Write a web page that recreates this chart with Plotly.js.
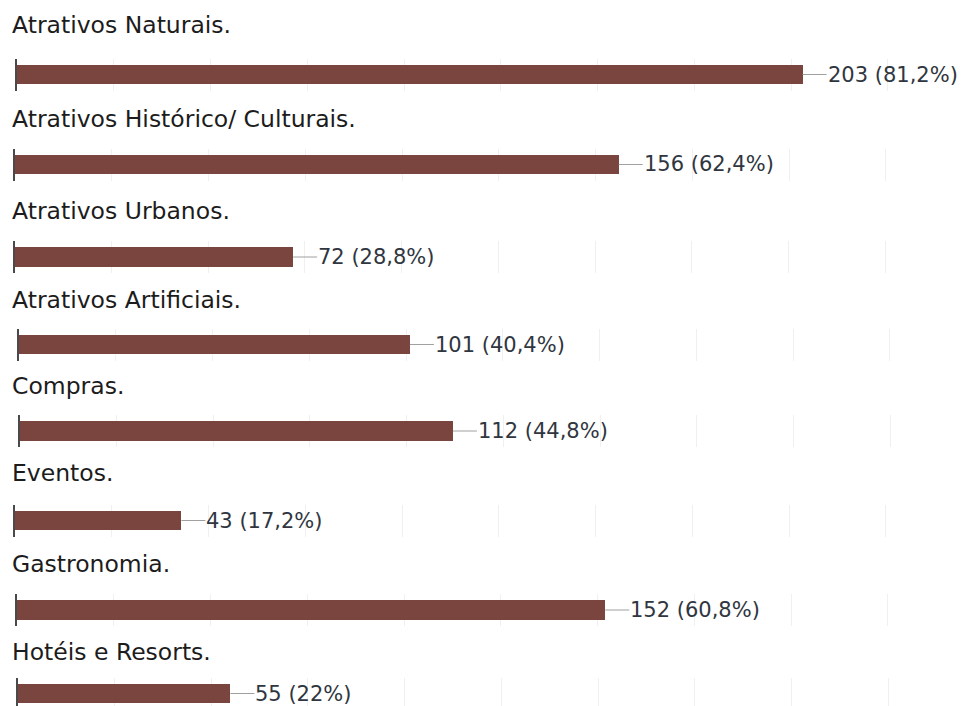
<!DOCTYPE html>
<html>
<head>
<meta charset="utf-8">
<script src="https://cdn.plot.ly/plotly-3.0.1.min.js"></script>
<style>
  html, body { margin: 0; padding: 0; background: #fff; }
  #chart { width: 965px; height: 706px; }
</style>
</head>
<body>
<div id="chart"></div>
<script>
// ---- data ----
const categories = [
  "Atrativos Naturais.",
  "Atrativos Histórico/ Culturais.",
  "Atrativos Urbanos.",
  "Atrativos Artificiais.",
  "Compras.",
  "Eventos.",
  "Gastronomia.",
  "Hotéis e Resorts."
];
const counts = [203, 156, 72, 101, 112, 43, 152, 55];
const percents = ["81,2", "62,4", "28,8", "40,4", "44,8", "17,2", "60,8", "22"];

// ---- layout constants (pixels) ----
const W = 965, H = 706;
const pxPerUnit = 3.87;
const panelLeft = [17, 15, 14.5, 19, 19.5, 15, 17, 17.5];
const barCenter = [74.5, 164.5, 257, 344.5, 431, 520.5, 610, 693.5];
const titleCenter = [25, 119, 211, 300, 386, 472.5, 564, 652];
const halfSpan = 16;   // half height of each panel's plot area
const barColor = "#7a443f";

const traces = [];
const layout = {
  width: W, height: H,
  margin: {l: 0, r: 0, t: 0, b: 0, pad: 0},
  paper_bgcolor: "#ffffff",
  plot_bgcolor: "#ffffff",
  showlegend: false,
  bargap: 0,
  annotations: []
};

categories.forEach((cat, i) => {
  const n = i + 1;
  const xa = n === 1 ? "x" : "x" + n;
  const ya = n === 1 ? "y" : "y" + n;
  const xKey = n === 1 ? "xaxis" : "xaxis" + n;
  const yKey = n === 1 ? "yaxis" : "yaxis" + n;

  traces.push({
    type: "bar",
    orientation: "h",
    x: [counts[i]],
    y: [cat],
    width: [0.6],
    marker: {color: barColor, line: {width: 0}},
    xaxis: xa, yaxis: ya,
    hoverinfo: "skip"
  });

  const left = panelLeft[i];
  layout[xKey] = {
    domain: [left / W, 1],
    range: [0, (W - left) / pxPerUnit],
    anchor: ya,
    showgrid: true, gridcolor: "#f0f0f0", gridwidth: 1,
    tick0: 0, dtick: 25,
    zeroline: false, showline: false,
    showticklabels: false, ticks: "",
    fixedrange: true
  };

  let topPx = barCenter[i] - halfSpan;
  let botPx = barCenter[i] + halfSpan;
  let yBottom = -0.5;
  if (botPx > H) {
    yBottom = 0.5 - (H - topPx) / (2 * halfSpan);
    botPx = H;
  }
  layout[yKey] = {
    domain: [1 - botPx / H, 1 - topPx / H],
    range: [yBottom, 0.5],
    anchor: xa,
    type: "category",
    showgrid: false, zeroline: false,
    showline: true, linecolor: "#4a4a4a", linewidth: 2,
    showticklabels: false, ticks: "",
    fixedrange: true
  };

  // panel title
  layout.annotations.push({
    xref: "paper", yref: "paper",
    x: 11 / W, y: 1 - titleCenter[i] / H,
    xanchor: "left", yanchor: "middle",
    text: cat, showarrow: false, borderpad: 0,
    font: {family: "DejaVu Sans", size: 23.5, color: "#1c1c1c"}
  });

  // value label with connector
  layout.annotations.push({
    xref: xa, yref: ya,
    x: counts[i], y: cat,
    text: counts[i] + " (" + percents[i] + "%)",
    showarrow: true, arrowhead: 0, arrowwidth: 1, arrowcolor: "#a0a0a0",
    ax: 24, ay: 0, standoff: 0, startstandoff: 0,
    xanchor: "left", yanchor: "middle",
    borderpad: 0,
    font: {family: "DejaVu Sans", size: 21, color: "#303640"}
  });
});

Plotly.newPlot("chart", traces, layout, {displayModeBar: false, staticPlot: true});
</script>
</body>
</html>
